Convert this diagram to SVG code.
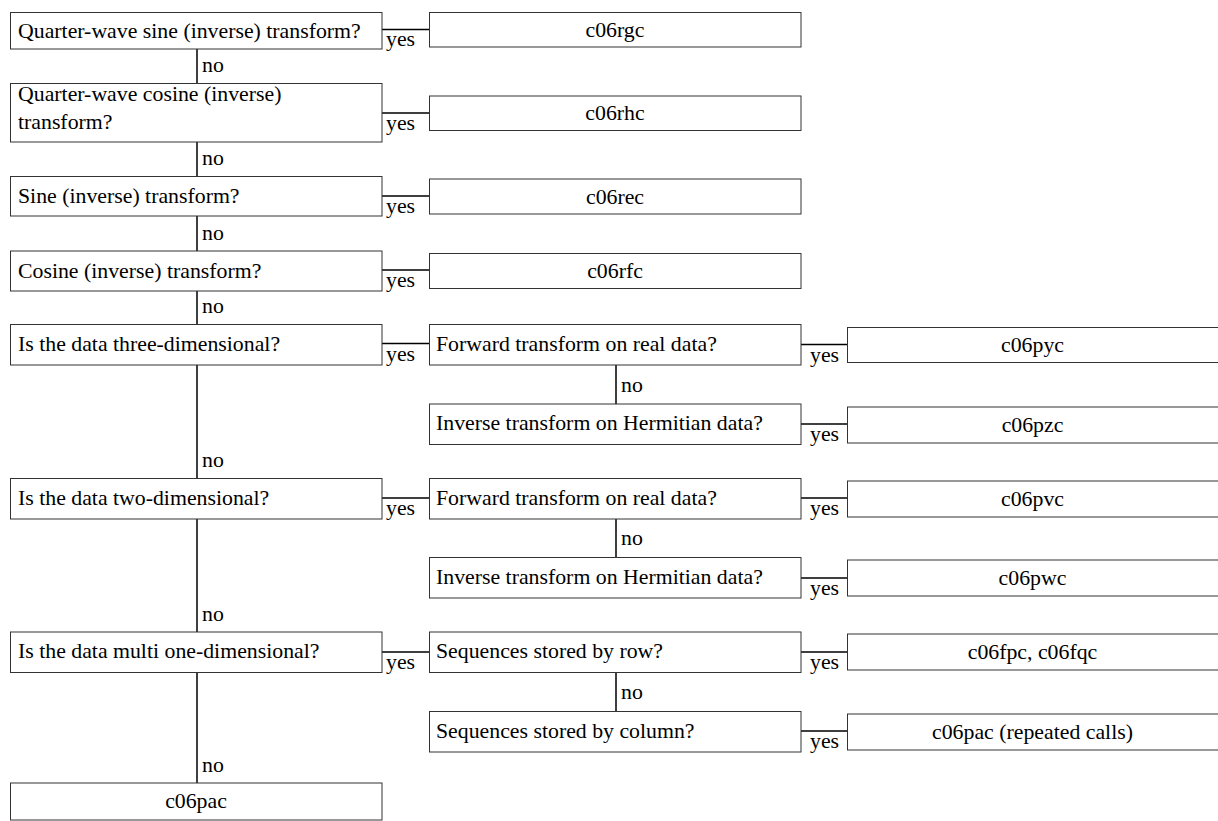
<svg xmlns="http://www.w3.org/2000/svg" width="1218" height="821" viewBox="0 0 1218 821">
<style>
.box{fill:#fff;stroke:#333;stroke-width:1}
.c{fill:none;stroke:#000;stroke-width:1.5}
.m{text-anchor:middle}
</style>
<g font-family="Liberation Serif, Times New Roman, DejaVu Serif, serif" font-size="21.8" fill="#000">
<g id="connectors">
<path class="c" d="M197,49V83M197,142V176M197,216V251M197,291V324M197,365V478M197,519V632M197,672V783"/>
<path class="c" d="M382,29.5H429M382,113H429M382,196H429M382,270H429M382,343.5H429M382,498H429M382,652H429"/>
<path class="c" d="M616,365V404M616,519V557M616,672V711"/>
<path class="c" d="M801,344.5H847M801,424H847M801,498H847M801,578H847M801,652H847M801,731H847"/>
<text x="202" y="72">no</text>
<text x="202" y="165">no</text>
<text x="202" y="240">no</text>
<text x="202" y="313">no</text>
<text x="202" y="467">no</text>
<text x="202" y="621">no</text>
<text x="202" y="772">no</text>
<text x="621" y="392">no</text>
<text x="621" y="545">no</text>
<text x="621" y="699">no</text>
<text x="386" y="46">yes</text>
<text x="386" y="129.5">yes</text>
<text x="386" y="212.5">yes</text>
<text x="386" y="286.5">yes</text>
<text x="386" y="361">yes</text>
<text x="386" y="515">yes</text>
<text x="386" y="669">yes</text>
<text x="810" y="361.5">yes</text>
<text x="810" y="441">yes</text>
<text x="810" y="515">yes</text>
<text x="810" y="595">yes</text>
<text x="810" y="669">yes</text>
<text x="810" y="748">yes</text>
</g>
<g id="q1"><rect class="box" x="10.5" y="12.5" width="371.5" height="36.5"/><text x="18" y="38">Quarter-wave sine (inverse) transform?</text></g>
<g id="a1"><rect class="box" x="429.5" y="12.5" width="371.5" height="34.5"/><text class="m" x="615" y="36.5">c06rgc</text></g>
<g id="q2"><rect class="box" x="10.5" y="83.5" width="371.5" height="58.5"/><text x="18" y="101">Quarter-wave cosine (inverse)</text><text x="18" y="129">transform?</text></g>
<g id="a2"><rect class="box" x="429.5" y="96" width="371.5" height="34.5"/><text class="m" x="615" y="120">c06rhc</text></g>
<g id="q3"><rect class="box" x="10.5" y="176.5" width="371.5" height="39.5"/><text x="18" y="203">Sine (inverse) transform?</text></g>
<g id="a3"><rect class="box" x="429.5" y="179" width="371.5" height="35"/><text class="m" x="615" y="203.5">c06rec</text></g>
<g id="q4"><rect class="box" x="10.5" y="251" width="371.5" height="40"/><text x="18" y="277.5">Cosine (inverse) transform?</text></g>
<g id="a4"><rect class="box" x="429.5" y="253.5" width="371.5" height="35"/><text class="m" x="615" y="277.5">c06rfc</text></g>
<g id="q5"><rect class="box" x="10.5" y="324.5" width="371.5" height="40.5"/><text x="18" y="350.5">Is the data three-dimensional?</text></g>
<g id="q5a"><rect class="box" x="429.5" y="324.5" width="371.5" height="40.5"/><text x="436" y="350.5">Forward transform on real data?</text></g>
<g id="a5a"><rect class="box" x="847.5" y="327.5" width="372" height="35"/><text class="m" x="1032.5" y="351.5">c06pyc</text></g>
<g id="q5b"><rect class="box" x="429.5" y="404" width="371.5" height="40.5"/><text x="436" y="430">Inverse transform on Hermitian data?</text></g>
<g id="a5b"><rect class="box" x="847.5" y="407" width="372" height="36"/><text class="m" x="1032.5" y="431.5">c06pzc</text></g>
<g id="q6"><rect class="box" x="10.5" y="478.5" width="371.5" height="40.5"/><text x="18" y="504.5">Is the data two-dimensional?</text></g>
<g id="q6a"><rect class="box" x="429.5" y="478.5" width="371.5" height="40.5"/><text x="436" y="504.5">Forward transform on real data?</text></g>
<g id="a6a"><rect class="box" x="847.5" y="481" width="372" height="36"/><text class="m" x="1032.5" y="505.5">c06pvc</text></g>
<g id="q6b"><rect class="box" x="429.5" y="557.5" width="371.5" height="40.5"/><text x="436" y="583.5">Inverse transform on Hermitian data?</text></g>
<g id="a6b"><rect class="box" x="847.5" y="560" width="372" height="36"/><text class="m" x="1032.5" y="584.5">c06pwc</text></g>
<g id="q7"><rect class="box" x="10.5" y="632" width="371.5" height="40.5"/><text x="18" y="658">Is the data multi one-dimensional?</text></g>
<g id="q7a"><rect class="box" x="429.5" y="632" width="371.5" height="40.5"/><text x="436" y="658">Sequences stored by row?</text></g>
<g id="a7a"><rect class="box" x="847.5" y="634" width="372" height="36"/><text class="m" x="1032.5" y="658.5">c06fpc, c06fqc</text></g>
<g id="q7b"><rect class="box" x="429.5" y="711.5" width="371.5" height="40.5"/><text x="436" y="737.5">Sequences stored by column?</text></g>
<g id="a7b"><rect class="box" x="847.5" y="714" width="372" height="36"/><text class="m" x="1032.5" y="738.5">c06pac (repeated calls)</text></g>
<g id="end"><rect class="box" x="10.5" y="783" width="371.5" height="37"/><text class="m" x="196" y="808">c06pac</text></g>
</g>
</svg>
